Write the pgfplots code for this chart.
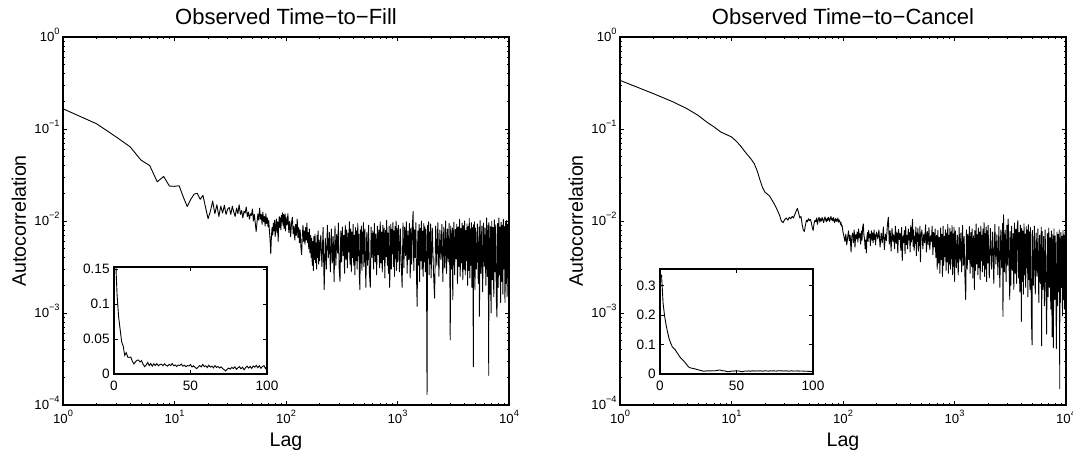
\documentclass[border=0pt]{standalone}
\usepackage{fontspec}
\setmainfont{Liberation Sans}
\usepackage{pgfplots}
\usepackage{pgfplotstable}
\pgfplotsset{compat=1.18}
\newcommand{\tp}[1]{10\raisebox{3.5pt}{\fontsize{4.6}{5}\selectfont #1}}

\pgfplotstableread[row sep=\\]{x y\\%
1 0.166\\ 2 0.114\\ 3 0.082\\ 4 0.064\\ 5 0.046\\ 6 0.040\\ 7 0.0267\\ 8 0.0305\\ 9 0.0240\\ 10 0.0238\\%
11 0.0242\\ 12 0.0182\\ 13 0.0144\\ 14 0.0172\\ 15 0.0196\\ 16 0.0200\\ 17 0.0172\\ 18 0.0190\\ 19 0.0140\\ 20 0.0106\\%
21 0.0128\\ 22 0.0165\\ 23 0.0120\\ 24 0.0150\\ 25 0.0112\\ 26 0.0145\\ 27 0.0122\\ 28 0.0148\\ 29 0.0118\\ 30 0.0135\\%
31 0.0140\\ 32 0.0118\\ 33 0.0145\\ 34 0.0125\\ 35 0.0112\\ 36 0.0138\\ 37 0.0120\\ 38 0.0150\\ 39 0.0118\\ 40 0.0130\\%
41 0.0108\\ 42 0.0128\\ 43 0.0122\\ 44 0.0142\\ 45 0.0112\\ 46 0.0125\\ 47 0.0105\\ 48 0.0120\\ 49 0.0115\\ 50 0.0135\\%
51 0.0100\\ 52 0.0118\\ 53 0.0095\\ 54 0.0077\\ 55 0.0098\\ 56 0.0120\\ 57 0.0102\\ 58 0.0138\\ 59 0.0105\\ 60 0.0118\\%
61 0.0092\\ 62 0.0125\\ 63 0.0098\\ 64 0.0112\\ 65 0.0088\\ 66 0.0120\\ 67 0.0094\\ 68 0.0108\\ 69 0.0086\\ 70 0.0102\\%
71 0.0078\\ 72 0.0062\\ 73 0.0044\\ 74 0.0068\\ 75 0.0085\\ 76 0.0070\\ 77 0.0095\\ 78 0.0078\\ 79 0.0102\\ 80 0.0068\\%
81 0.0088\\ 82 0.0105\\ 83 0.0075\\ 84 0.0098\\ 85 0.0060\\ 86 0.0090\\ 87 0.0112\\ 88 0.0085\\ 89 0.0108\\ 90 0.0080\\%
91 0.0115\\ 92 0.0098\\ 93 0.0123\\ 94 0.0090\\ 95 0.0118\\ 96 0.0082\\ 97 0.0106\\ 98 0.0120\\ 99 0.0078\\ 100 0.0110\\%
102 0.0090\\ 104 0.0120\\ 106 0.0075\\ 108 0.0100\\ 110 0.0068\\ 112 0.0095\\ 114 0.0110\\ 116 0.0072\\ 118 0.0088\\ 120 0.0062\\%
122 0.0092\\ 124 0.0070\\ 126 0.0105\\ 128 0.0066\\ 130 0.0085\\ 132 0.0058\\ 134 0.0080\\ 136 0.0052\\ 138 0.0043\\ 140 0.0068\\%
142 0.0090\\ 144 0.0060\\ 146 0.0078\\ 148 0.0056\\ 150 0.0085\\ 152 0.0062\\ 154 0.0095\\ 156 0.0058\\ 158 0.0075\\ 160 0.0050\\%
162 0.0082\\ 164 0.0045\\ 166 0.0070\\ 168 0.0040\\ 170 0.0065\\ 172 0.0033\\ 174 0.0060\\ 176 0.0029\\ 178 0.0068\\ 180 0.0038\\%
182 0.0072\\ 184 0.0035\\ 186 0.0058\\ 188 0.0030\\ 190 0.0070\\ 192 0.0040\\ 194 0.0078\\ 196 0.0034\\ 198 0.0062\\ 200 0.0037\\%
205 0.0070\\ 210 0.0032\\ 215 0.0085\\ 220 0.0018\\ 225 0.0065\\ 230 0.0030\\ 235 0.0090\\ 240 0.0040\\ 245 0.0075\\ 250 0.0028\\%
255 0.0082\\ 260 0.0035\\ 265 0.0068\\ 270 0.0022\\ 275 0.0088\\ 280 0.0033\\ 285 0.0072\\ 290 0.0045\\ 295 0.0095\\ 300 0.0030\\%
305 0.0022\\ 310 0.0078\\ 315 0.0036\\ 320 0.0086\\ 325 0.0042\\ 330 0.0070\\ 335 0.0027\\ 340 0.0090\\ 345 0.0038\\ 350 0.0080\\%
355 0.0031\\ 360 0.0074\\ 365 0.0046\\ 370 0.0098\\ 375 0.0034\\ 380 0.0082\\ 385 0.0028\\ 390 0.0076\\ 395 0.0040\\ 400 0.0092\\%
405 0.0033\\ 410 0.0070\\ 415 0.0026\\ 420 0.0085\\ 425 0.0037\\ 430 0.0078\\ 435 0.0030\\ 440 0.0094\\ 445 0.0042\\ 450 0.0072\\%
455 0.0025\\ 460 0.0018\\ 465 0.0080\\ 470 0.0035\\ 475 0.0088\\ 480 0.0029\\ 485 0.0076\\ 490 0.0044\\ 495 0.0096\\ 500 0.0032\\%
510 0.0082\\ 520 0.0019\\ 530 0.0075\\ 540 0.0033\\ 550 0.0090\\ 560 0.0027\\ 570 0.0019\\ 580 0.0086\\ 590 0.0040\\ 600 0.0078\\%
610 0.0030\\ 620 0.0094\\ 630 0.0036\\ 640 0.0072\\ 650 0.0026\\ 660 0.0088\\ 670 0.0043\\ 680 0.0080\\ 690 0.0031\\ 700 0.0098\\%
710 0.0035\\ 720 0.0076\\ 730 0.0028\\ 740 0.0090\\ 750 0.0038\\ 760 0.0084\\ 770 0.0024\\ 780 0.0079\\ 790 0.0041\\ 800 0.0102\\%
810 0.0033\\ 820 0.0074\\ 830 0.0027\\ 840 0.0088\\ 850 0.0019\\ 860 0.0036\\ 870 0.0092\\ 880 0.0030\\ 890 0.0081\\ 900 0.0044\\%
910 0.0096\\ 920 0.0032\\ 930 0.0078\\ 940 0.0025\\ 950 0.0087\\ 960 0.0039\\ 970 0.0100\\ 980 0.0029\\ 990 0.0083\\ 1000 0.0036\\%
1020 0.0090\\ 1040 0.0028\\ 1060 0.0082\\ 1080 0.0035\\ 1100 0.0019\\ 1120 0.0095\\ 1140 0.0031\\ 1160 0.0086\\ 1180 0.0042\\ 1200 0.0098\\%
1220 0.0027\\ 1240 0.0078\\ 1260 0.0038\\ 1280 0.0094\\ 1300 0.0024\\ 1320 0.0084\\ 1340 0.0034\\ 1360 0.0088\\ 1380 0.0127\\ 1400 0.0029\\%
1420 0.0080\\ 1440 0.0040\\ 1460 0.0096\\ 1480 0.0026\\ 1500 0.00118\\ 1520 0.0078\\ 1540 0.0033\\ 1560 0.0092\\ 1580 0.0022\\ 1600 0.0083\\%
1620 0.0037\\ 1640 0.0100\\ 1660 0.0030\\ 1680 0.0077\\ 1700 0.0025\\ 1720 0.0094\\ 1740 0.0036\\ 1760 0.0086\\ 1780 0.0028\\ 1800 0.0081\\%
1820 0.0033\\ 1840 0.00013\\ 1860 0.0090\\ 1880 0.0040\\ 1900 0.0098\\ 1920 0.0026\\ 1940 0.0076\\ 1960 0.0034\\ 1980 0.0093\\ 2000 0.0024\\%
2050 0.0084\\ 2100 0.0029\\ 2150 0.00145\\ 2200 0.0088\\ 2250 0.0033\\ 2300 0.0096\\ 2350 0.0025\\ 2400 0.0080\\ 2450 0.0038\\ 2500 0.0092\\%
2550 0.0022\\ 2600 0.0086\\ 2650 0.0031\\ 2700 0.0100\\ 2750 0.0027\\ 2800 0.0082\\ 2850 0.0036\\ 2900 0.0094\\ 2950 0.0024\\ 2970 0.00051\\%
3000 0.0088\\ 3050 0.0030\\ 3100 0.0084\\ 3130 0.0014\\ 3150 0.0034\\ 3200 0.0097\\ 3250 0.0026\\ 3300 0.0081\\ 3350 0.0039\\ 3400 0.0092\\%
3450 0.0021\\ 3500 0.0086\\ 3550 0.0032\\ 3600 0.0104\\ 3650 0.0025\\ 3700 0.0083\\ 3750 0.0035\\ 3800 0.0095\\ 3850 0.0023\\ 3900 0.0089\\%
3950 0.0030\\ 4000 0.0100\\ 4050 0.0026\\ 4100 0.0079\\ 4150 0.0037\\ 4200 0.0093\\ 4250 0.0020\\ 4300 0.0087\\ 4350 0.0029\\ 4400 0.0106\\%
4450 0.0024\\ 4500 0.0082\\ 4550 0.0033\\ 4600 0.0096\\ 4650 0.0019\\ 4700 0.0085\\ 4750 0.0028\\ 4790 0.00026\\ 4800 0.0091\\ 4850 0.0025\\%
4900 0.0098\\ 4950 0.0018\\ 5000 0.0084\\ 5100 0.0030\\ 5200 0.0093\\ 5300 0.0021\\ 5400 0.0086\\ 5430 0.00092\\ 5500 0.0101\\ 5600 0.0027\\%
5700 0.0088\\ 5800 0.0017\\ 5900 0.0095\\ 6000 0.0032\\ 6100 0.0084\\ 6200 0.0020\\ 6300 0.0108\\ 6400 0.0025\\ 6500 0.0090\\ 6580 0.00021\\%
6600 0.0096\\ 6700 0.0016\\ 6800 0.0087\\ 6900 0.0010\\ 7000 0.0099\\ 7100 0.0023\\ 7200 0.0085\\ 7300 0.0015\\ 7400 0.0103\\ 7500 0.0028\\%
7600 0.0091\\ 7700 0.0014\\ 7800 0.00090\\ 7900 0.0094\\ 8000 0.0019\\ 8100 0.0108\\ 8200 0.0026\\ 8300 0.0086\\ 8400 0.0013\\ 8500 0.0097\\%
8600 0.0022\\ 8700 0.0090\\ 8800 0.0016\\ 8900 0.0104\\ 9000 0.0030\\ 9100 0.0087\\ 9200 0.0013\\ 9300 0.0096\\ 9400 0.0021\\ 9500 0.0101\\%
9600 0.0015\\ 9700 0.0092\\ 9800 0.0024\\ 9900 0.0106\\ 10000 0.0018\\%
}\tblL

\pgfplotstableread[row sep=\\]{x y\\%
1 0.338\\ 2 0.242\\ 3 0.197\\ 4 0.166\\ 5 0.141\\ 6 0.119\\ 7 0.105\\ 8 0.093\\ 9 0.087\\ 10 0.082\\%
11 0.074\\ 12 0.066\\ 13 0.058\\ 14 0.052\\ 15 0.047\\ 16 0.042\\ 17 0.035\\ 18 0.028\\ 19 0.023\\ 20 0.0205\\%
21 0.0196\\ 22 0.0186\\ 23 0.0170\\ 24 0.0156\\ 25 0.0142\\ 26 0.0128\\ 27 0.0115\\ 28 0.0100\\ 29 0.0096\\ 30 0.0104\\%
31 0.0108\\ 32 0.0102\\ 33 0.0110\\ 34 0.0106\\ 35 0.0112\\ 36 0.0108\\ 37 0.0118\\ 38 0.0128\\ 39 0.0137\\ 40 0.0122\\%
41 0.0108\\ 42 0.0112\\ 43 0.0092\\ 44 0.0080\\ 45 0.0077\\ 46 0.0090\\ 47 0.0102\\ 48 0.0098\\ 49 0.0106\\ 50 0.0101\\%
51 0.0104\\ 52 0.0096\\ 53 0.0085\\ 54 0.0079\\ 55 0.0094\\ 56 0.0102\\ 57 0.0098\\ 58 0.0108\\ 59 0.0092\\ 60 0.0104\\%
61 0.0110\\ 62 0.0097\\ 63 0.0106\\ 64 0.0100\\ 65 0.0109\\ 66 0.0103\\ 67 0.0096\\ 68 0.0105\\ 69 0.0111\\ 70 0.0102\\%
71 0.0098\\ 72 0.0107\\ 73 0.0101\\ 74 0.0110\\ 75 0.0104\\ 76 0.0099\\ 77 0.0108\\ 78 0.0112\\ 79 0.0103\\ 80 0.0106\\%
81 0.0100\\ 82 0.0109\\ 83 0.0104\\ 84 0.0096\\ 85 0.0102\\ 86 0.0107\\ 87 0.0099\\ 88 0.0104\\ 89 0.0100\\ 90 0.0108\\%
91 0.0097\\ 92 0.0103\\ 93 0.0101\\ 94 0.0098\\ 95 0.0092\\ 96 0.0096\\ 97 0.0088\\ 98 0.0090\\ 99 0.0082\\ 100 0.0076\\%
102 0.0068\\ 104 0.0060\\ 106 0.0072\\ 108 0.0055\\ 110 0.0066\\ 112 0.0078\\ 114 0.0061\\ 116 0.0070\\ 118 0.0046\\ 120 0.0068\\%
122 0.0074\\ 124 0.0058\\ 126 0.0080\\ 128 0.0052\\ 130 0.0071\\ 132 0.0064\\ 134 0.0076\\ 136 0.0059\\ 138 0.0082\\ 140 0.0066\\%
142 0.0073\\ 144 0.0056\\ 146 0.0078\\ 148 0.0062\\ 150 0.0085\\ 152 0.0093\\ 154 0.0070\\ 156 0.0064\\ 158 0.0050\\ 160 0.0062\\%
162 0.0045\\ 164 0.0068\\ 166 0.0075\\ 168 0.0060\\ 170 0.0079\\ 172 0.0066\\ 174 0.0072\\ 176 0.0054\\ 178 0.0070\\ 180 0.0078\\%
182 0.0062\\ 184 0.0074\\ 186 0.0058\\ 188 0.0067\\ 190 0.0080\\ 192 0.0063\\ 194 0.0071\\ 196 0.0055\\ 198 0.0069\\ 200 0.0076\\%
205 0.0064\\ 210 0.0080\\ 215 0.0052\\ 220 0.0074\\ 225 0.0058\\ 230 0.0086\\ 235 0.0049\\ 240 0.0072\\ 245 0.0061\\ 250 0.0090\\%
255 0.0110\\ 260 0.0056\\ 265 0.0078\\ 270 0.0047\\ 275 0.0083\\ 280 0.0060\\ 285 0.0071\\ 290 0.0050\\ 295 0.0088\\ 300 0.0057\\%
305 0.0076\\ 310 0.0045\\ 315 0.0081\\ 320 0.0063\\ 325 0.0073\\ 330 0.0048\\ 335 0.0085\\ 340 0.0037\\ 345 0.0069\\ 350 0.0058\\%
355 0.0079\\ 360 0.0044\\ 365 0.0087\\ 370 0.0055\\ 375 0.0070\\ 380 0.0050\\ 385 0.0082\\ 390 0.0062\\ 395 0.0075\\ 400 0.0046\\%
405 0.0089\\ 410 0.0059\\ 415 0.0072\\ 420 0.0104\\ 425 0.0053\\ 430 0.0080\\ 435 0.0048\\ 440 0.0068\\ 445 0.0057\\ 450 0.0086\\%
455 0.0042\\ 460 0.0074\\ 465 0.0060\\ 470 0.0083\\ 475 0.0047\\ 480 0.0071\\ 485 0.0054\\ 490 0.0088\\ 495 0.0036\\ 500 0.0066\\%
510 0.0080\\ 520 0.0050\\ 530 0.0072\\ 540 0.0058\\ 550 0.0091\\ 560 0.0046\\ 570 0.0077\\ 580 0.0055\\ 590 0.0085\\ 600 0.0049\\%
610 0.0069\\ 620 0.0060\\ 630 0.0088\\ 640 0.0043\\ 650 0.0075\\ 660 0.0052\\ 670 0.0082\\ 680 0.0040\\ 690 0.0070\\ 700 0.0030\\%
710 0.0079\\ 720 0.0035\\ 730 0.0066\\ 740 0.0027\\ 750 0.0084\\ 760 0.0038\\ 770 0.0072\\ 780 0.0025\\ 790 0.0088\\ 800 0.0033\\%
810 0.0068\\ 820 0.0041\\ 830 0.0080\\ 840 0.0029\\ 850 0.0074\\ 860 0.0036\\ 870 0.0092\\ 880 0.0027\\ 890 0.0070\\ 900 0.0034\\%
910 0.0083\\ 920 0.0030\\ 930 0.0076\\ 940 0.0039\\ 950 0.0089\\ 960 0.0026\\ 970 0.0072\\ 980 0.0032\\ 990 0.0086\\ 1000 0.0022\\%
1020 0.0078\\ 1040 0.0031\\ 1060 0.0070\\ 1080 0.0026\\ 1100 0.0085\\ 1120 0.0036\\ 1140 0.0074\\ 1160 0.0028\\ 1180 0.0090\\ 1200 0.0033\\%
1220 0.0068\\ 1240 0.0025\\ 1260 0.0014\\ 1280 0.0080\\ 1300 0.0030\\ 1320 0.0072\\ 1340 0.0038\\ 1360 0.0087\\ 1380 0.0027\\ 1400 0.0075\\%
1420 0.0032\\ 1440 0.0082\\ 1460 0.0024\\ 1480 0.0069\\ 1500 0.0035\\ 1510 0.0018\\ 1520 0.0079\\ 1540 0.0029\\ 1560 0.0093\\ 1580 0.0034\\%
1600 0.0071\\ 1620 0.0026\\ 1640 0.0084\\ 1660 0.0031\\ 1680 0.0076\\ 1700 0.0023\\ 1720 0.0088\\ 1740 0.0037\\ 1760 0.0070\\ 1780 0.0028\\%
1800 0.0082\\ 1820 0.0033\\ 1840 0.0096\\ 1860 0.0025\\ 1880 0.0073\\ 1900 0.0030\\ 1920 0.0086\\ 1940 0.0022\\ 1960 0.0078\\ 1980 0.0035\\%
2000 0.0090\\ 2050 0.0024\\ 2100 0.0083\\ 2150 0.0030\\ 2200 0.0076\\ 2250 0.0021\\ 2300 0.0092\\ 2350 0.0034\\ 2400 0.0071\\ 2450 0.0026\\%
2500 0.0087\\ 2550 0.0019\\ 2600 0.0080\\ 2650 0.0031\\ 2700 0.0094\\ 2720 0.00092\\ 2750 0.0117\\ 2800 0.0028\\ 2850 0.0079\\ 2900 0.0022\\%
2950 0.0090\\ 3000 0.0033\\ 3030 0.0105\\ 3100 0.0025\\ 3130 0.0014\\ 3150 0.0077\\ 3200 0.0020\\ 3250 0.0088\\ 3300 0.0029\\ 3350 0.0073\\%
3400 0.0018\\ 3450 0.0095\\ 3500 0.0027\\ 3550 0.0081\\ 3600 0.0021\\ 3650 0.0086\\ 3700 0.0101\\ 3750 0.0024\\ 3800 0.0075\\ 3850 0.0017\\%
3900 0.0090\\ 3950 0.0030\\ 3980 0.00081\\ 4000 0.0083\\ 4050 0.0022\\ 4100 0.0078\\ 4150 0.0016\\ 4200 0.0093\\ 4250 0.0026\\ 4300 0.0072\\%
4350 0.0019\\ 4400 0.0087\\ 4450 0.0031\\ 4500 0.0080\\ 4550 0.0015\\ 4600 0.0091\\ 4650 0.0023\\ 4700 0.0076\\ 4750 0.0018\\ 4800 0.0085\\%
4850 0.0028\\ 4900 0.00085\\ 4960 0.00045\\ 5000 0.0079\\ 5100 0.0020\\ 5200 0.0088\\ 5300 0.0016\\ 5400 0.0074\\ 5500 0.0025\\ 5600 0.0082\\%
5700 0.0013\\ 5800 0.0070\\ 5900 0.0021\\ 6000 0.0086\\ 6040 0.00044\\ 6100 0.0077\\ 6200 0.0018\\ 6300 0.0068\\ 6400 0.0012\\ 6500 0.0080\\%
6600 0.0024\\ 6700 0.00059\\ 6800 0.0073\\ 6900 0.0015\\ 7000 0.0084\\ 7100 0.0019\\ 7200 0.0066\\ 7300 0.0011\\ 7400 0.0078\\ 7500 0.00055\\%
7600 0.0071\\ 7700 0.00042\\ 7800 0.0082\\ 7900 0.0014\\ 8000 0.0069\\ 8100 0.0020\\ 8200 0.00041\\ 8300 0.0076\\ 8400 0.0012\\ 8500 0.0072\\%
8600 0.0017\\ 8700 0.0080\\ 8790 0.00015\\ 8800 0.0064\\ 8900 0.0013\\ 9000 0.0075\\ 9100 0.0019\\ 9200 0.0068\\ 9300 0.00093\\ 9400 0.0079\\%
9500 0.0014\\ 9600 0.0070\\ 9700 0.0011\\ 9800 0.0076\\ 9900 0.0016\\ 10000 0.0072\\%
}\tblR

\pgfplotsset{
  mainax/.style={
    scale only axis, width=223pt, height=184pt,
    xmin=1, xmax=10000, ymin=1e-4, ymax=1,
    xtick={1,10,100,1000,10000},
    xticklabels={\tp{0},\tp{1},\tp{2},\tp{3},\tp{4}},
    ytick={1e-4,1e-3,1e-2,1e-1,1},
    yticklabels={\tp{−4},\tp{−3},\tp{−2},\tp{−1},\tp{0}},
    minor xtick={2,3,4,5,6,7,8,9,20,30,40,50,60,70,80,90,200,300,400,500,600,700,800,900,2000,3000,4000,5000,6000,7000,8000,9000},
    minor ytick={2e-4,3e-4,4e-4,5e-4,6e-4,7e-4,8e-4,9e-4,2e-3,3e-3,4e-3,5e-3,6e-3,7e-3,8e-3,9e-3,0.02,0.03,0.04,0.05,0.06,0.07,0.08,0.09,0.2,0.3,0.4,0.5,0.6,0.7,0.8,0.9},
    tick align=inside, tick pos=both,
    major tick length=2.2pt, minor tick length=1.1pt,
    every tick/.style={black, line width=0.4pt},
    axis line style={line width=0.7pt},
    tick label style={font=\fontsize{6.6}{7.5}\selectfont},
    xticklabel style={anchor=base, yshift=-9.4pt},
    yticklabel style={anchor=base east, yshift=-2.35pt, inner xsep=1.5pt},
    title style={font=\fontsize{11}{13}\selectfont, at={(axis description cs:0.5,1)}, anchor=base, yshift=0.5pt},
    xlabel style={font=\fontsize{9.8}{11}\selectfont, at={(axis description cs:0.5,0)}, anchor=base, yshift=-20.5pt},
    ylabel style={font=\fontsize{9.8}{11}\selectfont, at={(axis description cs:-0.083,0.5)}, anchor=base},
    xlabel={Lag}, ylabel={Autocorrelation},
  },
  inax/.style={
    scale only axis, width=76.5pt,
    xmin=0, xmax=100, ymin=0,
    xtick={0,50,100}, xticklabels={0,50,100},
    tick align=inside, tick pos=both,
    major tick length=2pt,
    every tick/.style={black, line width=0.4pt},
    axis line style={line width=0.6pt},
    axis background/.style={fill=white},
    tick label style={font=\fontsize{6.8}{8}\selectfont},
    xticklabel style={anchor=base, yshift=-8.3pt},
    yticklabel style={inner xsep=2pt},
  },
}

\begin{document}
\begin{tikzpicture}
\begin{loglogaxis}[mainax, at={(31.5pt,22.5pt)}, anchor=south west, title={Observed Time−to−Fill}]
\addplot[black, line width=0.45pt, mark=none, line join=round] table[x=x,y=y]{\tblL};
\end{loglogaxis}
\begin{loglogaxis}[mainax, at={(310pt,22.5pt)}, anchor=south west, title={Observed Time−to−Cancel}]
\addplot[black, line width=0.45pt, mark=none, line join=round] table[x=x,y=y]{\tblR};
\end{loglogaxis}
\begin{axis}[inax, at={(57pt,38pt)}, anchor=south west, height=53.5pt, ymax=0.153,
  ytick={0,0.05,0.1,0.15}, yticklabels={0,0.05,0.1,0.15}]
\addplot[black, line width=0.45pt, mark=none, restrict x to domain=0:100] table[x=x,y=y]{\tblL};
\end{axis}
\begin{axis}[inax, at={(330pt,38pt)}, anchor=south west, height=52.5pt, ymax=0.357,
  ytick={0,0.1,0.2,0.3}, yticklabels={0,0.1,0.2,0.3}]
\addplot[black, line width=0.45pt, mark=none, restrict x to domain=0:100] table[x=x,y=y]{\tblR};
\end{axis}
\pgfresetboundingbox
\useasboundingbox (0,0) rectangle (536.5pt,225pt);
\end{tikzpicture}
\end{document}
